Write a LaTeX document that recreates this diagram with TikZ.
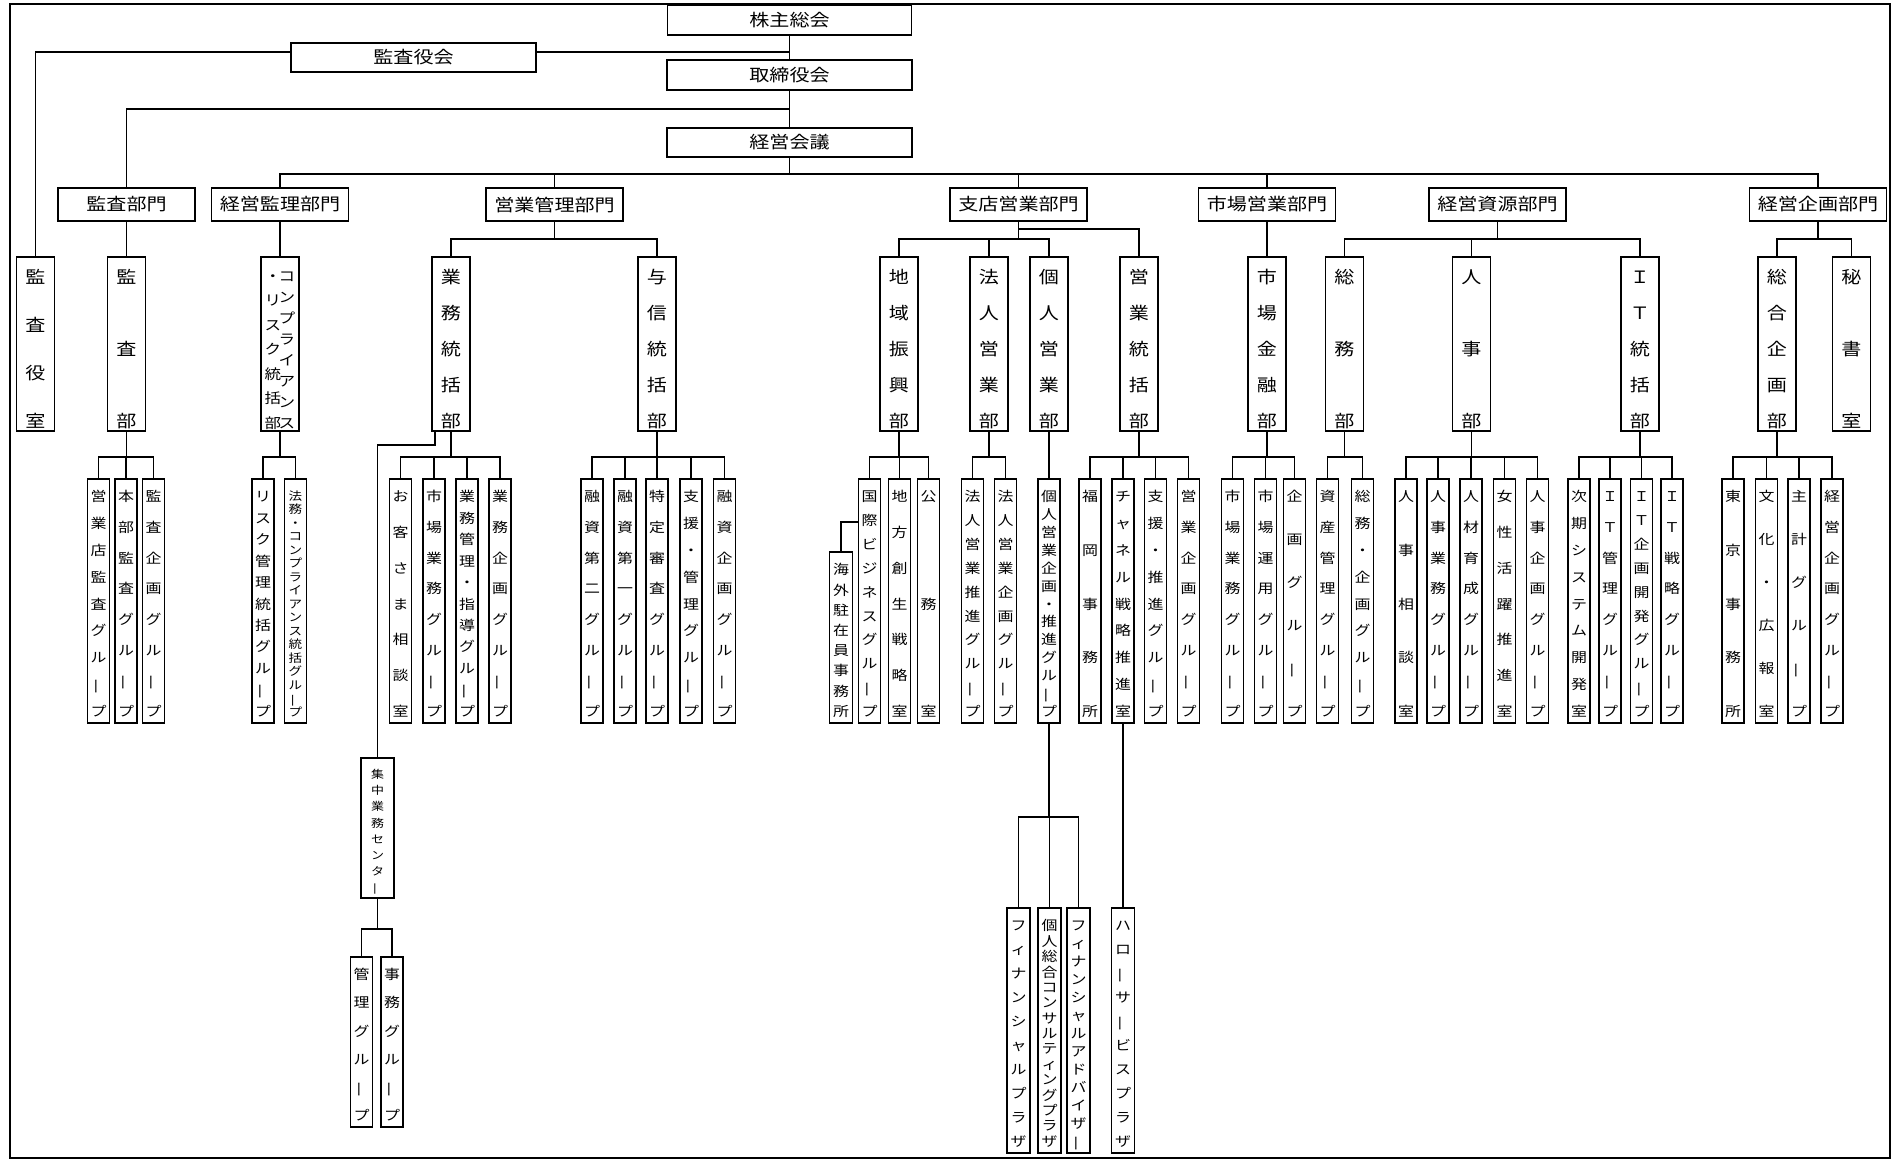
\documentclass[tikz,border=0pt]{standalone}
\usepackage{fontspec}
\usepackage{graphicx}
\newfontfamily\jp[FakeStretch=1.18]{Noto Sans CJK JP}
\usetikzlibrary{calc}
\makeatletter
\def\choon{ー}
\def\vglyph{\ifx\vch\choon\rotatebox[origin=c]{90}{ー}\else\vch\fi}
\newcommand\vtx[4]{\vbox to #1{\offinterlineskip\kern#2\relax\let\vsep\relax\@tfor\vch:=#4\do{\vsep\hbox to 0pt{\hss\vrule height .88em depth .12em width 0pt\smash{\vglyph}\hss}\def\vsep{\vfill}}\kern#3\relax}}
\makeatother
\tikzset{
  box/.style={draw, line width=1.9pt, inner sep=0pt, fill=white},
  hbx/.style={box, font=\jp\fontsize{17pt}{17pt}\selectfont, minimum height=30pt},
  vbx/.style={box, anchor=north},
  ln/.style={line width=1.6pt},
}
\newcommand\dept[4][17]{\node[vbx, minimum width=38pt, minimum height=174pt, font=\jp\fontsize{#1pt}{#1pt}\selectfont] (#2) at (#3,256) {\vtx{174pt}{12pt}{1pt}{#4}};}
\newcommand\grp[4][13.5]{\node[vbx, minimum width=22pt, minimum height=244pt, font=\jp\fontsize{#1pt}{#1pt}\selectfont] (#2) at (#3,478) {\vtx{244pt}{11pt}{5pt}{#4}};}
\newcommand\vn[7]{\node[vbx, minimum width=#4pt, minimum height=#5pt, font=\jp\fontsize{#6pt}{#6pt}\selectfont] (#1) at (#2,#3) {\vtx{#5pt}{11pt}{5pt}{#7}};}
\begin{document}
\begin{tikzpicture}[x=1pt,y=-1pt]
\useasboundingbox (0,0) rectangle (1893,1160);
\draw[line width=1.8pt] (10,4) rectangle (1890,1158);

% top level
\node[hbx, minimum width=244pt] (kabu) at (789.5,20) {株主総会};
\node[hbx, minimum width=245pt, minimum height=29pt] (kansa) at (413.5,57.5) {監査役会};
\node[hbx, minimum width=245pt] (tori) at (789.5,75) {取締役会};
\node[hbx, minimum width=245pt, minimum height=29pt] (kaigi) at (789.5,142.5) {経営会議};

% divisions
\foreach \n/\x/\t in {dA/126.5/監査部門, dB/280/経営監理部門, dC/554.5/営業管理部門, dD/1018.5/支店営業部門, dE/1267/市場営業部門, dF/1497.5/経営資源部門, dG/1818/経営企画部門}
  \node[hbx, minimum width=137pt, minimum height=33pt] (\n) at (\x,204.5) {\t};

% departments
\dept{shitsu}{35.5}{監査役室}
\dept{kansabu}{126.5}{監査部}
\node[vbx, minimum width=38pt, minimum height=174pt, font=\jp\fontsize{14pt}{14pt}\selectfont] (comp) at (280,256)
  {\hbox{\vtx{174pt}{12pt}{1pt}{・リスク統括部}\kern14pt\vtx{174pt}{12pt}{1pt}{コンプライアンス}}};
\dept{gyomu}{451}{業務統括部}
\dept{yoshin}{657}{与信統括部}
\dept{chiiki}{899}{地域振興部}
\dept{hojin}{989}{法人営業部}
\dept{kojin}{1049}{個人営業部}
\dept{eigyo}{1139}{営業統括部}
\dept{shijo}{1267}{市場金融部}
\dept{somu}{1344.5}{総務部}
\dept{jinji}{1471.5}{人事部}
\dept{it}{1640}{ＩＴ統括部}
\dept{sogo}{1777}{総合企画部}
\dept{hisho}{1851.5}{秘書室}

% groups
\grp{g11}{98.5}{営業店監査グループ}
\grp{g12}{126}{本部監査グループ}
\grp{g13}{153.5}{監査企画グループ}
\grp{g21}{263}{リスク管理統括グループ}
\grp[11.5]{g22}{295.5}{法務・コンプライアンス統括グループ}
\grp{g31}{400.5}{お客さま相談室}
\grp{g32}{434}{市場業務グループ}
\grp{g33}{467}{業務管理・指導グループ}
\grp{g34}{500}{業務企画グループ}
\grp{g41}{592}{融資第二グループ}
\grp{g42}{625}{融資第一グループ}
\grp{g43}{657}{特定審査グループ}
\grp{g44}{691}{支援・管理グループ}
\grp{g45}{724.5}{融資企画グループ}
\grp{g51}{869.5}{国際ビジネスグループ}
\grp{g52}{899.5}{地方創生戦略室}
\grp{g53}{928.5}{公務室}
\vn{g50}{841}{551}{23}{171}{13.5}{海外駐在員事務所}
\grp{g61}{972.5}{法人営業推進グループ}
\grp{g62}{1005.5}{法人営業企画グループ}
\grp{g71}{1049}{個人営業企画・推進グループ}
\grp{g81}{1090}{福岡事務所}
\grp{g82}{1123}{チャネル戦略推進室}
\grp{g83}{1155.5}{支援・推進グループ}
\grp{g84}{1188.5}{営業企画グループ}
\grp{g91}{1232.5}{市場業務グループ}
\grp{g92}{1265.5}{市場運用グループ}
\grp{g93}{1294.5}{企画グループ}
\grp{ga1}{1327.5}{資産管理グループ}
\grp{ga2}{1362.5}{総務・企画グループ}
\grp{gb1}{1406}{人事相談室}
\grp{gb2}{1438}{人事業務グループ}
\grp{gb3}{1471}{人材育成グループ}
\grp{gb4}{1504.5}{女性活躍推進室}
\grp{gb5}{1537.5}{人事企画グループ}
\grp{gc1}{1579}{次期システム開発室}
\grp{gc2}{1610}{ＩＴ管理グループ}
\grp{gc3}{1641.5}{ＩＴ企画開発グループ}
\grp{gc4}{1672}{ＩＴ戦略グループ}
\grp{gd1}{1733}{東京事務所}
\grp{gd2}{1766.5}{文化・広報室}
\grp{gd3}{1799}{主計グループ}
\grp{gd4}{1832}{経営企画グループ}

% lower boxes
\vn{center}{377.5}{757}{33}{140}{11}{集中業務センター}
\vn{ge1}{361.5}{956}{22}{170}{13.5}{管理グループ}
\vn{ge2}{392}{956}{22}{170}{13.5}{事務グループ}
\vn{gf1}{1018.5}{907}{23}{245}{13.5}{フィナンシャルプラザ}
\vn{gf2}{1049.5}{907}{23}{245}{13.5}{個人総合コンサルティングプラザ}
\vn{gf3}{1078.5}{907}{23}{245}{13.5}{フィナンシャルアドバイザー}
\vn{gg}{1123}{907}{23}{245}{13.5}{ハローサービスプラザ}

% connectors: top
\draw[ln] (kabu.south) -- (tori.north);
\draw[ln] ([yshift=5.5pt]kansa.east) -- ([yshift=5.5pt]kansa.east -| kabu.south);
\draw[ln] ([yshift=5.5pt]kansa.west) -| (shitsu.north);
\draw[ln] (tori.south) -- (kaigi.north);
\draw[ln] (tori.south) -- ++(0,18) -| (dA.north);
\foreach \c in {dB,dC,dD,dE,dG}
  \draw[ln] (kaigi.south) -- ++(0,16) -| (\c.north);

% divisions to departments
\foreach \p/\c in {dA/kansabu, dB/comp, dC/gyomu, dC/yoshin, dD/chiiki, dD/hojin, dD/kojin, dE/shijo, dF/somu, dF/jinji, dF/it, dG/sogo, dG/hisho}
  \draw[ln] (\p.south) -- ++(0,17) -| (\c.north);
\draw[ln] (dD.south) -- ++(0,7) -| (eigyo.north);

% departments to groups
\foreach \p/\c in {kansabu/g11, kansabu/g12, kansabu/g13, comp/g21, comp/g22, gyomu/g31, gyomu/g32, gyomu/g33, gyomu/g34, yoshin/g41, yoshin/g42, yoshin/g43, yoshin/g44, yoshin/g45, chiiki/g51, chiiki/g52, chiiki/g53, hojin/g61, hojin/g62, kojin/g71, eigyo/g81, eigyo/g82, eigyo/g83, eigyo/g84, shijo/g91, shijo/g92, shijo/g93, somu/ga1, somu/ga2, jinji/gb1, jinji/gb2, jinji/gb3, jinji/gb4, jinji/gb5, it/gc1, it/gc2, it/gc3, it/gc4, sogo/gd1, sogo/gd2, sogo/gd3, sogo/gd4}
  \draw[ln] (\p.south) -- ++(0,25) -| (\c.north);

% extra branches
\draw[ln] ([yshift=-44pt]g51.north west) -| (g50.north);
\draw[ln] ([xshift=-16pt]gyomu.south) -- ++(0,13) -| (center.north);
\draw[ln] (center.south) -- ++(0,30) -| (ge1.north);
\draw[ln] (center.south) -- ++(0,30) -| (ge2.north);
\foreach \c in {gf1,gf2,gf3}
  \draw[ln] (g71.south) -- ++(0,93) -| (\c.north);
\draw[ln] (g82.south) -- (gg.north);
\end{tikzpicture}
\end{document}
